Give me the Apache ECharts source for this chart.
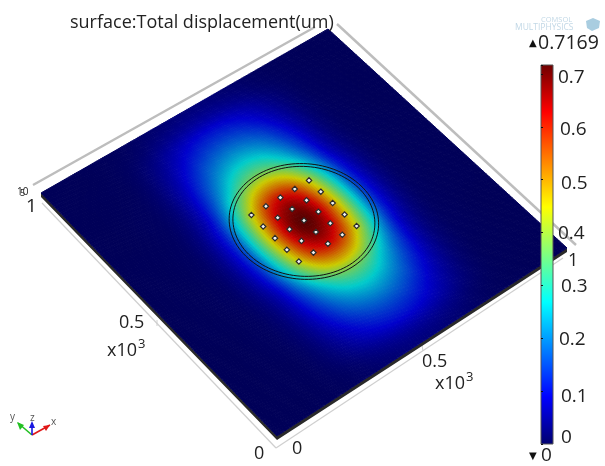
<!DOCTYPE html>
<html><head><meta charset="utf-8">
<style>html,body{margin:0;padding:0;background:#fff}#c{width:605px;height:466px}</style>
<script src="https://cdn.jsdelivr.net/npm/echarts@6/dist/echarts.min.js"></script>
</head><body><div id="c"></div>
<script>
// Plate x / y nodes (um)
const plateX=[0,50,100,150,200,250,300,350,400,450,500,550,600,650,700,750,800,850,900,950,1000];
const plateY=[0,50,100,150,200,250,300,350,400,450,500,550,600,650,700,750,800,850,900,950,1000];
// Total displacement, rows = y, columns = x
const displacement=[
[0,0,0,.001,.002,.004,.008,.014,.019,.024,.025,.024,.019,.014,.008,.004,.002,.001,0,0,0],
[0,0,0,.001,.003,.007,.015,.028,.039,.047,.050,.047,.039,.028,.015,.007,.003,.001,0,0,0],
[0,0,.001,.002,.004,.013,.030,.054,.077,.094,.100,.094,.077,.054,.030,.013,.004,.002,.001,0,0],
[0,0,.001,.002,.005,.018,.044,.078,.114,.141,.150,.141,.114,.078,.044,.018,.005,.002,.001,0,0],
[0,0,.001,.003,.007,.023,.057,.105,.158,.195,.210,.195,.158,.105,.057,.023,.007,.003,.001,0,0],
[0,0,.001,.004,.008,.027,.070,.134,.204,.260,.280,.260,.204,.134,.070,.027,.008,.004,.001,0,0],
[0,0,.001,.004,.009,.031,.081,.167,.263,.340,.370,.340,.263,.167,.081,.031,.009,.004,.001,0,0],
[0,.001,.002,.004,.011,.037,.095,.215,.350,.460,.500,.460,.350,.215,.095,.037,.011,.004,.002,.001,0],
[0,.001,.002,.005,.013,.045,.118,.267,.434,.570,.620,.570,.434,.267,.118,.045,.013,.005,.002,.001,0],
[0,.001,.002,.005,.014,.050,.131,.297,.483,.635,.690,.635,.483,.297,.131,.050,.014,.005,.002,.001,0],
[0,.001,.002,.005,.015,.052,.136,.308,.502,.660,.717,.660,.502,.308,.136,.052,.015,.005,.002,.001,0],
[0,.001,.002,.005,.014,.050,.131,.297,.483,.635,.690,.635,.483,.297,.131,.050,.014,.005,.002,.001,0],
[0,.001,.002,.005,.013,.045,.118,.267,.434,.570,.620,.570,.434,.267,.118,.045,.013,.005,.002,.001,0],
[0,.001,.002,.004,.011,.037,.095,.215,.350,.460,.500,.460,.350,.215,.095,.037,.011,.004,.002,.001,0],
[0,0,.001,.004,.009,.031,.081,.167,.263,.340,.370,.340,.263,.167,.081,.031,.009,.004,.001,0,0],
[0,0,.001,.004,.008,.027,.070,.134,.204,.260,.280,.260,.204,.134,.070,.027,.008,.004,.001,0,0],
[0,0,.001,.003,.007,.023,.057,.105,.158,.195,.210,.195,.158,.105,.057,.023,.007,.003,.001,0,0],
[0,0,.001,.002,.005,.018,.044,.078,.114,.141,.150,.141,.114,.078,.044,.018,.005,.002,.001,0,0],
[0,0,.001,.002,.004,.013,.030,.054,.077,.094,.100,.094,.077,.054,.030,.013,.004,.002,.001,0,0],
[0,0,0,.001,.003,.007,.015,.028,.039,.047,.050,.047,.039,.028,.015,.007,.003,.001,0,0,0],
[0,0,0,.001,.002,.004,.008,.014,.019,.024,.025,.024,.019,.014,.008,.004,.002,.001,0,0,0]
];
const pinX=[400,450,500,550,600];
const pinY=[400,450,500,550,600];
const circleRadii=[190,200];
const circleCenter=[500,500];
const colorTicks=['0','0.1','0.2','0.3','0.4','0.5','0.6','0.7'];
const colorMin=0, colorMax=0.7169;

// layout
const P00=[277,436],P10=[567,248],P01=[41,193],P11=[328,29];
const FONT='"Open Sans",sans-serif';
const LIGHT=0.8;
const colorStops=[[0,[0,0,110]],[.125,[0,0,255]],[.375,[0,255,255]],[.625,[255,255,0]],[.875,[255,0,0]],[1,[110,0,0]]];

function colorAt(t){t=Math.max(0,Math.min(1,t));
  for(let i=1;i<colorStops.length;i++){const a=colorStops[i-1],b=colorStops[i];
    if(t<=b[0]){const k=(t-a[0])/(b[0]-a[0]);
      return 'rgb('+a[1].map((c,n)=>Math.round((c+(b[1][n]-c)*k)*LIGHT)).join(',')+')';}}
  return 'rgb(88,0,0)';}

// homography: unit square -> screen
const H=(function(){
  const [x0,y0]=P00,[x1,y1]=P10,[x2,y2]=P11,[x3,y3]=P01;
  const dx1=x1-x2,dx2=x3-x2,sx=x0-x1+x2-x3,dy1=y1-y2,dy2=y3-y2,sy=y0-y1+y2-y3;
  const den=dx1*dy2-dx2*dy1;
  const g=(sx*dy2-dx2*sy)/den,h=(dx1*sy-sx*dy1)/den;
  return {a:x1-x0+g*x1,b:x3-x0+h*x3,c:x0,d:y1-y0+g*y1,e:y3-y0+h*y3,f:y0,g,h};
})();
function proj(x,y){const u=x/1000,v=y/1000,w=H.g*u+H.h*v+1;
  return [(H.a*u+H.b*v+H.c)/w,(H.d*u+H.e*v+H.f)/w];}

// display shading of the surface between nodes (Catmull-Rom)
function cr(p0,p1,p2,p3,t){return .5*((2*p1)+(-p0+p2)*t+(2*p0-5*p1+4*p2-p3)*t*t+(-p0+3*p1-3*p2+p3)*t*t*t);}
function node(j,i){j=Math.max(0,Math.min(plateY.length-1,j));i=Math.max(0,Math.min(plateX.length-1,i));return displacement[j][i];}
function shade(i,j,s,t){const r=[];
  for(let m=-1;m<=2;m++)r.push(cr(node(j+m,i-1),node(j+m,i),node(j+m,i+1),node(j+m,i+2),s));
  return cr(r[0],r[1],r[2],r[3],t);}

const SUB=8;
const cells=[];
for(let j=0;j<plateY.length-1;j++)for(let i=0;i<plateX.length-1;i++)cells.push([i,j,displacement[j][i]]);
const pins=[];pinX.forEach(x=>pinY.forEach(y=>pins.push([x,y])));

function text(t,x,y,size,extra){return {type:'text',x,y,z:20,style:Object.assign({text:t,font:size+'px '+FONT,fill:'#222',textAlign:'left',textVerticalAlign:'middle'},extra||{})};}
function line(a,b,c,w){return {type:'line',z:1,shape:{x1:a[0],y1:a[1],x2:b[0],y2:b[1]},style:{stroke:c,lineWidth:w}};}

const tickLabelPos={'0':[561,438],'0.1':[561,397],'0.2':[559,340],'0.3':[561,287],'0.4':[558,234],'0.5':[561,184],'0.6':[560,130],'0.7':[558,78]};

const chart=echarts.init(document.getElementById('c'),null,{renderer:'canvas'});
chart.setOption({
  animation:false,
  backgroundColor:'#fff',
  title:{text:'surface:Total displacement(um)',left:65,top:9,textStyle:{fontFamily:FONT,fontSize:18,fontWeight:'normal',color:'#222'}},
  grid:{left:541,top:65,width:12,height:379,containLabel:false},
  xAxis:{type:'value',min:0,max:1,show:false},
  yAxis:{type:'value',min:colorMin,max:colorMax,interval:.1,z:12,
    axisLine:{show:false},splitLine:{show:false},axisLabel:{show:false},
    axisTick:{show:true,inside:true,length:2,lineStyle:{color:'#111',width:1}}},
  series:[
   {type:'custom',coordinateSystem:'none',z:2,silent:true,data:[[0]],renderItem(){
      return {type:'polygon',shape:{points:[P01,[P01[0],P01[1]+4],[P00[0],P00[1]+4],[P10[0],P10[1]+4],P10,P00]},style:{fill:'#2a2a2a'}};}},
   {type:'custom',name:'surface',coordinateSystem:'none',z:3,silent:true,progressive:0,data:cells,
    renderItem(params,api){
      const i=api.value(0),j=api.value(1),kids=[];
      const x0=plateX[i],x1=plateX[i+1],y0=plateY[j],y1=plateY[j+1];
      for(let a=0;a<SUB;a++)for(let b=0;b<SUB;b++){
        const sa=a/SUB,sb=(a+1)/SUB,ta=b/SUB,tb=(b+1)/SUB;
        const X=s=>x0+(x1-x0)*s,Y=t=>y0+(y1-y0)*t;
        const col=colorAt(shade(i,j,(sa+sb)/2,(ta+tb)/2)/colorMax);
        kids.push({type:'polygon',shape:{points:[proj(X(sa),Y(ta)),proj(X(sb),Y(ta)),proj(X(sb),Y(tb)),proj(X(sa),Y(tb))]},
          style:{fill:col,stroke:col,lineWidth:1}});
      }
      return {type:'group',children:kids};
    }},
   {type:'custom',name:'circles',coordinateSystem:'none',z:4,silent:true,data:circleRadii.map(r=>[r]),
    renderItem(params,api){
      const r=api.value(0),pts=[];
      for(let a=0;a<=120;a++){const t=a/120*2*Math.PI;pts.push(proj(circleCenter[0]+r*Math.cos(t),circleCenter[1]+r*Math.sin(t)));}
      return {type:'polyline',shape:{points:pts},style:{stroke:'#111',lineWidth:1,fill:'none'}};
    }},
   {type:'custom',name:'pins',coordinateSystem:'none',z:5,silent:true,data:pins,
    renderItem(params,api){
      const c=proj(api.value(0),api.value(1)),s=2.7;
      return {type:'polygon',shape:{points:[[c[0],c[1]-s],[c[0]+s,c[1]],[c[0],c[1]+s],[c[0]-s,c[1]]]},style:{fill:'#f2f2f2',stroke:'#2a2a2a',lineWidth:1.2}};
    }},
   {type:'custom',name:'colorbar',z:10,silent:true,data:[[0,colorMin,1,colorMax]],
    encode:{x:[0,2],y:[1,3]},
    renderItem(params,api){
      const a=api.coord([api.value(0),api.value(1)]),b=api.coord([api.value(2),api.value(3)]);
      return {type:'rect',shape:{x:a[0],y:b[1],width:b[0]-a[0],height:a[1]-b[1]},
        style:{stroke:'#555',lineWidth:1,fill:{type:'linear',x:0,y:1,x2:0,y2:0,colorStops:colorStops.map(s=>({offset:s[0],color:'rgb('+s[1].join(',')+')'}))}}};
    }}
  ],
  graphic:{elements:[
    line([33,185],[315,27],'#bdbdbd',2.4),
    line([337,24],[576,245],'#bdbdbd',2.4),
    line([42,203],[276,448],'#cfcfcf',1.2),
    line([276,448],[563,258],'#cfcfcf',1.2),
    line([422,345],[423,351],'#cfcfcf',1),
    line([157,320],[157,326],'#cfcfcf',1),
    ...colorTicks.map(t=>text(t,tickLabelPos[t][0],tickLabelPos[t][1],19)),
    text('0.7169',538,43,19.5),
    text('▲',529,43,10,{font:'10px "DejaVu Sans"',fill:'#111'}),
    text('▼',529,456,10,{font:'10px "DejaVu Sans"',fill:'#111'}),
    text('0',541,456,19),
    text('1',26,207,19),
    text('0.5',119,323,18),
    text('x10',107,351,18),text('3',138,344,13),
    text('0',254,454,18),
    text('0',292,449,18),
    text('0.5',422,362,18),
    text('x10',435,384,18),text('3',466,377,13),
    text('1',568,261,18),
    text('10',17,192,10),text('5',20,193,9),
    // COMSOL logo
    text('COMSOL',541,20,7.5,{fill:'#c2d8e6',font:'7.5px '+FONT}),
    text('MULTIPHYSICS',515,28,8.5,{fill:'#c2d8e6',font:'8.5px '+FONT}),
    {type:'polygon',z:20,shape:{points:[[586,21],[593,18],[600,21],[599,28],[592,31],[587,28]]},style:{fill:'#a9cde0'}},
    // triad
    line([32,435],[50,425],'#e01818',1.6),
    {type:'polygon',z:20,shape:{points:[[50,425],[43,426],[46,431]]},style:{fill:'#e01818'}},
    line([32,435],[18,423],'#22c022',1.6),
    {type:'polygon',z:20,shape:{points:[[17,422],[24,425],[20,430]]},style:{fill:'#22c022'}},
    line([32,435],[32,423],'#1818e0',1.6),
    {type:'polygon',z:20,shape:{points:[[32,421],[29,428],[35,428]]},style:{fill:'#1818e0'}},
    text('y',10,417,10,{font:'10px '+FONT,fill:'#555'}),
    text('z',30,418,10,{font:'10px '+FONT,fill:'#555'}),
    text('x',51,422,10,{font:'10px '+FONT,fill:'#555'})
  ]}
});
</script></body></html>
